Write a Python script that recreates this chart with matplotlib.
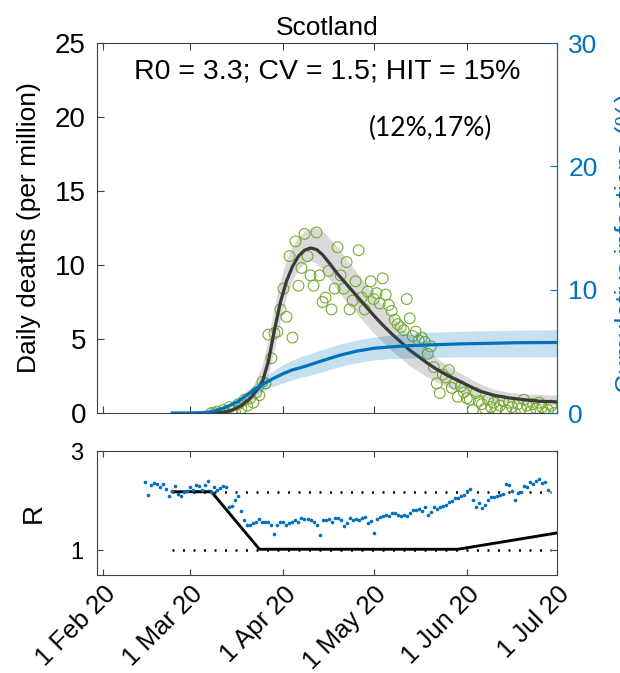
import numpy as np
import pandas as pd
import matplotlib
matplotlib.use("Agg")
import matplotlib.pyplot as plt

plt.rcParams['font.family'] = ['Liberation Sans', 'DejaVu Sans']

# observed daily deaths (per million), one value per day from 8 Mar 2020
deaths_start = "2020-03-08"
deaths = [0.0, 0.0, 0.1, 0.0, 0.2, 0.0, 0.4, 0.2, 0.0, 0.6,
          0.3, 0.9, 0.5, 1.0, 0.7, 1.4, 1.2, 2.1, 2.0, 5.3,
          3.7, 5.4, 5.5, 7.0, 8.4, 6.5, 10.6, 5.1, 11.6, 8.6,
          9.8, 12.1, 10.6, 9.3, 8.6, 12.2, 9.3, 7.5, 7.8, 9.6,
          7.0, 8.4, 11.2, 9.3, 8.4, 10.2, 7.0, 7.6, 8.9, 11.0,
          7.8, 7.0, 8.2, 8.9, 7.7, 8.1, 7.4, 9.1, 8.0, 7.3,
          6.9, 6.3, 6.0, 5.8, 5.6, 7.7, 6.4, 5.2, 5.5, 4.9,
          5.1, 4.8, 4.0, 4.5, 3.1, 2.0, 1.35, 2.6, 2.4, 2.9,
          1.7, 2.0, 1.1, 1.8, 1.4, 1.0, 0.9, 0.2, 1.35, 0.8,
          0.6, 0.3, 0.9, 0.4, 0.7, 0.3, 0.5, 0.8, 0.2, 0.7,
          0.4, 0.0, 0.6, 0.3, 0.9, 0.5, 0.1, 0.6, 0.3, 0.7,
          0.4, 0.0, 0.2, 0.5, 0.0]

# model fit of daily deaths with credible band
fit_dates = ["2020-03-09", "2020-03-12", "2020-03-15", "2020-03-18", "2020-03-21",
             "2020-03-23", "2020-03-25", "2020-03-27", "2020-03-29", "2020-03-31",
             "2020-04-02", "2020-04-04", "2020-04-06", "2020-04-08", "2020-04-10",
             "2020-04-12", "2020-04-14", "2020-04-16", "2020-04-19", "2020-04-22",
             "2020-04-25", "2020-04-28", "2020-05-01", "2020-05-04", "2020-05-07",
             "2020-05-10", "2020-05-13", "2020-05-16", "2020-05-19", "2020-05-22",
             "2020-05-25", "2020-05-28", "2020-06-01", "2020-06-05", "2020-06-10",
             "2020-06-15", "2020-06-20", "2020-06-25", "2020-07-01"]
fit_mid = [0.0, 0.05, 0.2, 0.5, 1.0, 1.5, 2.1, 3.5, 5.6, 7.5,
           8.9, 9.9, 10.6, 11.0, 11.15, 11.05, 10.7, 10.2, 9.4, 8.7,
           8.0, 7.3, 6.6, 5.95, 5.35, 4.8, 4.25, 3.8, 3.35, 2.95,
           2.6, 2.3, 1.9, 1.5, 1.2, 1.02, 0.9, 0.8, 0.75]
fit_lo = [0.0, 0.0, 0.1, 0.3, 0.7, 1.0, 1.5, 2.6, 4.3, 6.3,
          7.9, 9.0, 9.7, 10.1, 10.3, 10.1, 9.7, 9.1, 8.3, 7.5,
          6.8, 6.1, 5.4, 4.8, 4.2, 3.7, 3.2, 2.8, 2.4, 2.1,
          1.8, 1.55, 1.3, 1.0, 0.8, 0.7, 0.62, 0.58, 0.55]
fit_hi = [0.05, 0.15, 0.4, 0.8, 1.5, 2.3, 3.3, 5.0, 7.2, 9.0,
          10.4, 11.3, 11.9, 12.3, 12.5, 12.5, 12.3, 11.9, 11.2, 10.4,
          9.6, 8.8, 8.0, 7.3, 6.6, 5.9, 5.3, 4.7, 4.2, 3.7,
          3.3, 2.9, 2.45, 2.0, 1.6, 1.4, 1.3, 1.25, 1.2]

# cumulative infected (%), right axis
inf_dates = ["2020-02-24", "2020-02-29", "2020-03-05", "2020-03-08", "2020-03-11",
             "2020-03-14", "2020-03-17", "2020-03-20", "2020-03-23", "2020-03-26",
             "2020-03-29", "2020-04-01", "2020-04-04", "2020-04-07", "2020-04-09",
             "2020-04-14", "2020-04-20", "2020-04-25", "2020-05-01", "2020-05-06",
             "2020-05-12", "2020-05-19", "2020-05-29", "2020-06-08", "2020-06-18",
             "2020-07-01"]
inf_mid = [0.0, 0.0, 0.03, 0.1, 0.3, 0.6, 0.95, 1.5, 2.0, 2.45,
           2.85, 3.2, 3.5, 3.7, 3.85, 4.25, 4.7, 5.0, 5.25, 5.35,
           5.45, 5.52, 5.6, 5.65, 5.7, 5.72]
inf_lo = [0.0, 0.0, 0.01, 0.05, 0.18, 0.42, 0.7, 1.15, 1.55, 1.9,
          2.2, 2.45, 2.7, 2.9, 3.0, 3.35, 3.8, 4.05, 4.3, 4.4,
          4.45, 4.5, 4.55, 4.55, 4.55, 4.55]
inf_hi = [0.0, 0.0, 0.05, 0.16, 0.42, 0.8, 1.25, 1.85, 2.4, 3.0,
          3.5, 3.95, 4.3, 4.6, 4.75, 5.15, 5.6, 5.9, 6.15, 6.3,
          6.45, 6.55, 6.62, 6.68, 6.72, 6.75]

# lower panel: estimated R per day from 15 Feb 2020
r_start = "2020-02-15"
r_est = [2.37, 2.12, 2.31, 2.35, 2.33, 2.27, 2.33, 2.24, 2.10, 2.20,
         2.29, 2.14, 2.10, 2.18, 2.20, 2.27, 2.22, 2.31, 2.29, 2.22,
         2.31, 2.39, 2.18, 2.27, 2.22, 2.26, 2.29, 2.27, 1.88, 1.90,
         2.02, 2.10, 1.80, 1.61, 1.51, 1.51, 1.55, 1.57, 1.63, 1.57,
         1.57, 1.57, 1.51, 1.33, 1.51, 1.57, 1.57, 1.51, 1.55, 1.57,
         1.61, 1.57, 1.65, 1.63, 1.63, 1.61, 1.57, 1.50, 1.31, 1.61,
         1.61, 1.63, 1.57, 1.65, 1.65, 1.61, 1.49, 1.55, 1.65, 1.61,
         1.63, 1.61, 1.65, 1.66, 1.55, 1.58, 1.35, 1.62, 1.66, 1.69,
         1.71, 1.70, 1.75, 1.76, 1.72, 1.68, 1.71, 1.69, 1.76, 1.82,
         1.82, 1.84, 1.80, 1.88, 1.71, 1.78, 1.88, 1.84, 1.88, 1.90,
         1.92, 1.98, 2.00, 2.06, 2.06, 2.10, 2.12, 2.20, 2.24, 2.02,
         1.88, 1.96, 1.85, 1.92, 2.02, 2.08, 2.08, 2.10, 2.12, 2.14,
         2.33, 2.31, 2.20, 2.02, 2.16, 2.18, 2.30, 2.27, 2.37, 2.33,
         2.40, 2.44, 2.35, 2.38, 2.22]

# model R trajectory (distancing)
rm_dates = ["2020-02-24", "2020-03-08", "2020-03-24", "2020-05-29", "2020-07-01"]
rm_mid = [2.18, 2.18, 1.02, 1.02, 1.35]
rm_lo = [2.16, 2.15, 1.0, 1.0, 1.32]
rm_hi = [2.20, 2.24, 1.06, 1.05, 1.38]
ref_levels = [2.18, 1.0]
ref_span = ["2020-02-24", "2020-06-29"]

month_ticks = ["2020-02-01", "2020-03-01", "2020-04-01", "2020-05-01", "2020-06-01", "2020-07-01"]
month_labels = ["1 Feb 20", "1 Mar 20", "1 Apr 20", "1 May 20", "1 Jun 20", "1 Jul 20"]
xlims = ["2020-01-30", "2020-07-01"]

# ---------------------------------------------------------------------------
blue = '#0072BD'
green = '#77AC30'
axcol = '#404040'

d_dates = pd.date_range(deaths_start, periods=len(deaths))
r_dates = pd.date_range(r_start, periods=len(r_est))
fd = pd.to_datetime(fit_dates)
idt = pd.to_datetime(inf_dates)
rmd = pd.to_datetime(rm_dates)
xl = pd.to_datetime(xlims)

fig = plt.figure(figsize=(6.2, 6.73), dpi=100)
ax = fig.add_axes([0.1565, 0.3863, 0.742, 0.5498])
ax2 = ax.twinx()
axb = fig.add_axes([0.1565, 0.1456, 0.742, 0.1842])

# top panel
ax.fill_between(fd, fit_lo, fit_hi, color='#d9d9d9', lw=0, zorder=1)
ax.scatter(d_dates, deaths, s=60, facecolors='none', edgecolors=green, linewidths=0.8, zorder=2)
ax.plot(fd, fit_mid, color='#3a3a3a', lw=2.3, zorder=3)
ax2.fill_between(idt, inf_lo, inf_hi, color=blue, alpha=0.22, lw=0)
ax2.plot(idt, inf_mid, color=blue, lw=2.3)

ax.set_xlim(xl[0], xl[1])
ax.set_ylim(0, 25)
ax.set_yticks([0, 5, 10, 15, 20, 25])
ax2.set_ylim(0, 30)
ax2.set_yticks([0, 10, 20, 30])
ax.set_xticks(pd.to_datetime(month_ticks))
ax.tick_params(axis='x', direction='in', top=True, labelbottom=False, length=5, color=axcol)
ax.tick_params(axis='y', direction='in', length=5, labelsize=20, pad=8, color=axcol, labelcolor='black')
ax2.tick_params(axis='y', direction='in', length=5, labelsize=19, pad=8, colors=blue)
for s in ['left', 'bottom', 'top']:
    ax.spines[s].set_color(axcol)
ax2.spines['right'].set_color(blue)
for s in ['left', 'bottom', 'top']:
    ax2.spines[s].set_visible(False)

ax.set_ylabel("Daily deaths (per million)", fontsize=19)
ax.yaxis.set_label_coords(-0.122, 0.5)
# right label sits mostly past the figure edge, as in the source
ax2.set_ylabel("Cumulative infections (%)", fontsize=19, color=blue)
ax2.yaxis.set_label_coords(1.127, 0.46)
ax.set_title("Scotland", fontsize=19, pad=6)
ax.text(0.5, 0.922, "R0 = 3.3; CV = 1.5; HIT = 15%", transform=ax.transAxes,
        ha='center', va='center', fontsize=20.5)
ax.text(0.724, 0.77, "(12%,17%)", transform=ax.transAxes, ha='center', va='center',
        fontsize=19, family=['Lato', 'DejaVu Sans'])

# bottom panel
rs = pd.to_datetime(ref_span)
for lev in ref_levels:
    axb.plot(rs, [lev, lev], color='black', lw=1.8, linestyle=(0, (0.8, 3.4)))
axb.fill_between(rmd, rm_lo, rm_hi, color='#c8c8c8', lw=0)
axb.plot(rmd, rm_mid, color='black', lw=2)
axb.plot(r_dates, r_est, 'o', color=blue, ms=2.6, mew=0)

axb.set_xlim(xl[0], xl[1])
axb.set_ylim(0.5, 3)
axb.set_yticks([1, 3])
axb.set_xticks(pd.to_datetime(month_ticks))
axb.set_xticklabels(month_labels, rotation=45, ha='right', va='top', rotation_mode='anchor')
axb.tick_params(direction='in', top=True, right=True, length=4, labelsize=17, pad=10, color=axcol)
axb.tick_params(axis='x', labelsize=18.5, pad=5)
for s in axb.spines.values():
    s.set_color(axcol)
axb.set_ylabel("R", fontsize=20)
axb.yaxis.set_label_coords(-0.11, 0.5)

fig.savefig("out.png", dpi=100)
